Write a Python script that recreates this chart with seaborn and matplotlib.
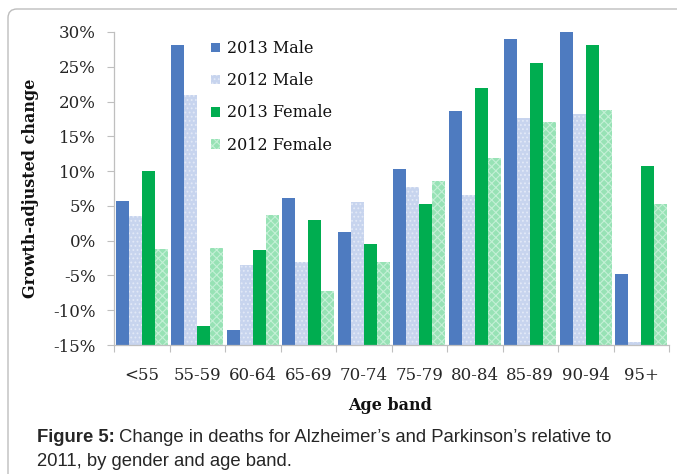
import numpy as np
import pandas as pd
import seaborn as sns
import matplotlib.pyplot as plt
from matplotlib.patches import FancyBboxPatch, Patch
from matplotlib.ticker import FixedLocator, PercentFormatter

# values (growth-adjusted change, %)
age_bands = ["<55", "55-59", "60-64", "65-69", "70-74", "75-79", "80-84", "85-89", "90-94", "95+"]
male_2013 = [5.7, 28.2, -12.9, 6.1, 1.3, 10.3, 18.6, 29.0, 30.1, -4.8]
male_2012 = [3.5, 21.0, -3.5, -3.0, 5.5, 7.7, 6.6, 17.7, 18.2, -14.6]
female_2013 = [10.0, -12.2, -1.3, 3.0, -0.5, 5.3, 21.9, 25.5, 28.1, 10.7]
female_2012 = [-1.2, -1.0, 3.7, -7.2, -3.1, 8.6, 11.9, 17.1, 18.8, 5.3]
series_names = ["2013 Male", "2012 Male", "2013 Female", "2012 Female"]
colors = ["#4E7BC0", "#C7D4EE", "#00AD50", "#97E2B5"]
hatches = ["", "....", "", "xxxx"]
hatch_colors = ["#4E7BC0", "#E2E9F7", "#00AD50", "#C4F0D6"]
y_ticks = list(range(-15, 31, 5))
y_floor = -15  # Excel axis crosses at -15%, so bars start there

df = pd.DataFrame({
    "band": age_bands * 4,
    "series": np.repeat(series_names, len(age_bands)),
    "change": male_2013 + male_2012 + female_2013 + female_2012,
})
df["height"] = df["change"] - y_floor

sns.set_style("white")
plt.rcParams["font.family"] = ["DejaVu Serif"]
plt.rcParams["axes.unicode_minus"] = False
plt.rcParams["hatch.linewidth"] = 0.8

fig = plt.figure(figsize=(6.77, 4.74), dpi=100)
ax = fig.add_axes([114 / 677, 1 - 345 / 474, 555 / 677, 313 / 474])

sns.barplot(data=df, x="band", y="height", hue="series", order=age_bands,
            hue_order=series_names, palette=colors, saturation=1, width=0.94, gap=0,
            bottom=y_floor, errorbar=None, linewidth=0, legend=False, ax=ax)

for cont, h, hc in zip(ax.containers, hatches, hatch_colors):
    for bar in cont:
        bar.set_hatch(h)
        bar.set_edgecolor(hc)
        bar.set_linewidth(0)

ax.set_ylim(-15, 30)
ax.set_xlim(-0.5, len(age_bands) - 0.5)
ax.set_yticks(y_ticks)
ax.yaxis.set_major_formatter(PercentFormatter(decimals=0))
ax.xaxis.set_minor_locator(FixedLocator(np.arange(-0.5, len(age_bands), 1)))

tick_col = "#262626"
ax.tick_params(axis="x", which="major", length=0, pad=16, labelsize=12, labelcolor=tick_col)
ax.tick_params(axis="x", which="minor", length=5, width=0.8, color="#BFBFBF", direction="out", bottom=True)
ax.tick_params(axis="y", which="major", length=5, width=0.8, color="#BFBFBF", direction="out",
               left=True, pad=8, labelsize=12, labelcolor=tick_col)

sns.despine(ax=ax)
for side in ["left", "bottom"]:
    ax.spines[side].set_color("#BFBFBF")
    ax.spines[side].set_linewidth(0.9)

ax.set_xlabel("Age band", fontsize=11.5, fontweight="bold", color="#111111")
ax.set_ylabel("Growth-adjusted change", fontsize=11.5, fontweight="bold", color="#111111")
ax.xaxis.set_label_coords(0.497, -0.165)
ax.yaxis.set_label_coords(-0.135, 0.5)

handles = [Patch(facecolor=c, edgecolor=hc, hatch=h, linewidth=0)
           for c, h, hc in zip(colors, hatches, hatch_colors)]
ax.legend(handles, series_names, loc="upper left", bbox_to_anchor=(211 / 677, 1 - 40 / 474),
          bbox_transform=fig.transFigure, frameon=False, fontsize=11.5,
          handlelength=0.55, handleheight=0.55, handletextpad=0.45,
          labelspacing=0.95, borderpad=0, borderaxespad=0, labelcolor="#111111")

# rounded frame around the figure (top and left edges visible)
frame = FancyBboxPatch((0.08, -0.5), 7.5, 4.65 + 0.5, boxstyle="round,pad=0,rounding_size=0.09",
                       transform=fig.dpi_scale_trans, facecolor="none",
                       edgecolor="#BDBDBD", linewidth=1.0)
fig.add_artist(frame)

# caption
cap_font = ["Liberation Sans", "DejaVu Sans"]
cap_size = 13.3
fig.canvas.draw()
bold = fig.text(37 / 677, 1 - 437 / 474, "Figure 5:", family=cap_font, fontsize=cap_size,
                fontweight="bold", va="center", ha="left")
r = fig.canvas.get_renderer()
bb = bold.get_window_extent(renderer=r)
fig.text((bb.x1 + 4) / 677, 1 - 437 / 474,
         "Change in deaths for Alzheimer\u2019s and Parkinson\u2019s relative to",
         family=cap_font, fontsize=cap_size, va="center", ha="left")
fig.text(37 / 677, 1 - 461 / 474, "2011, by gender and age band.",
         family=cap_font, fontsize=cap_size, va="center", ha="left")

fig.savefig("out.png", dpi=100)
